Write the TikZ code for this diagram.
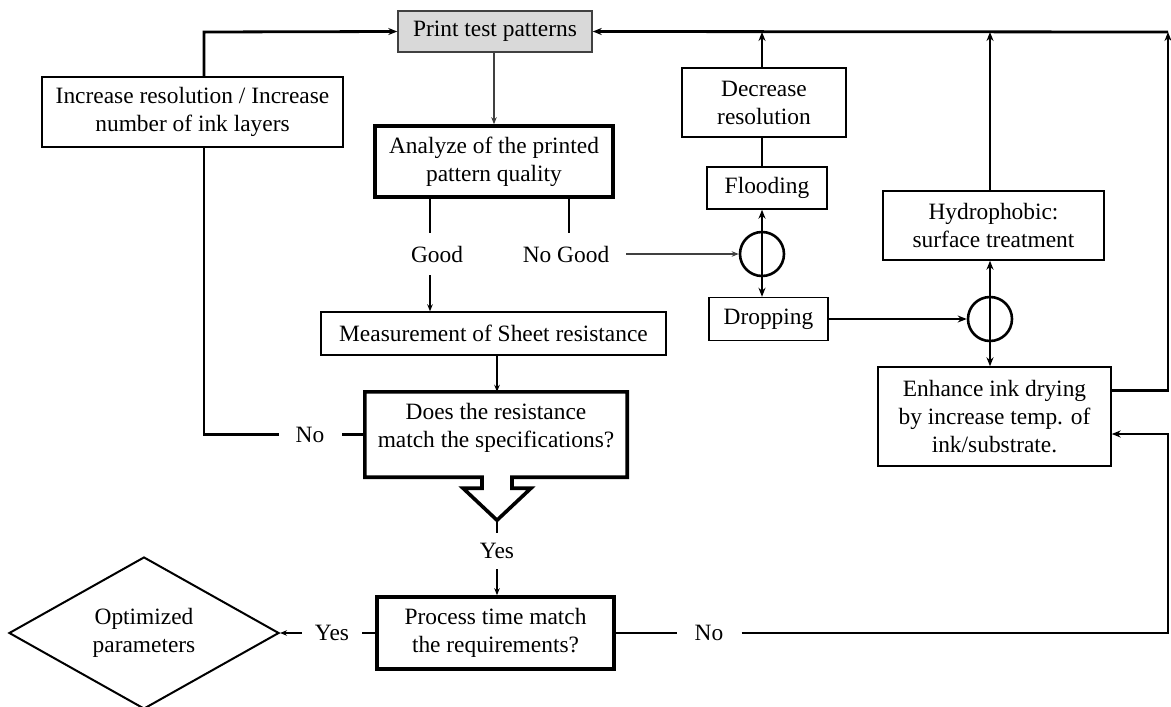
\documentclass[tikz,border=0pt]{standalone}
\usepackage{fontspec}
\setmainfont{Liberation Serif}
\usetikzlibrary{arrows.meta,shapes.geometric,calc}
\definecolor{boxgray}{HTML}{D9D9D9}
\definecolor{edgegray}{HTML}{404040}
\begin{document}
\begin{tikzpicture}[x=1pt,y=-1pt,
  every node/.style={font=\fontsize{23.4}{28}\selectfont, align=center, inner sep=0pt},
  plainbox/.style={draw=black, line width=1.4pt, rectangle},
  boldbox/.style={draw=black, line width=3.6pt, rectangle},
  tag/.style={minimum height=#1},
  heavy/.style={line width=2.8pt},
  light/.style={line width=1.2pt},
  tipH/.style={-{Stealth[length=9pt,width=7pt]}},
  tipHH/.style={{Stealth[length=9pt,width=7pt]}-{Stealth[length=9pt,width=7pt]}},
  tipL/.style={-{Stealth[length=7pt,width=5.5pt]}}
]
\useasboundingbox (0,0) rectangle (1171,707);

% process boxes
\node[plainbox, draw=edgegray, fill=boxgray, minimum width=194, minimum height=41] (print) at (495,31.5) {Print test patterns};
\node[plainbox, minimum width=301, minimum height=70] (incr) at (192.5,112) {Increase resolution / Increase\\number of ink layers};
\node[boldbox, minimum width=238, minimum height=71] (analyze) at (494,161.5) {Analyze of the printed\\pattern quality};
\node[plainbox, minimum width=345, minimum height=43] (meas) at (493.5,333.5) {Measurement of Sheet resistance};
\node[minimum width=262, minimum height=85] (does) at (496,434.5) {};
\node (doestext) at (496,428) {Does the resistance\\match the specifications?};
\node[boldbox, minimum width=237, minimum height=72] (proc) at (495.5,633) {Process time match\\the requirements?};
\node[draw=black, line width=2pt, diamond, minimum width=270, minimum height=152] (opt) at (144,633) {Optimized\\parameters};
\node[plainbox, minimum width=164, minimum height=69] (decr) at (764,102.5) {Decrease\\resolution};
\node[plainbox, minimum width=120, minimum height=42] (flood) at (767,188) {Flooding};
\node[plainbox, minimum width=119, minimum height=43] (drop) at (768.5,319) {Dropping};
\node[plainbox, minimum width=221, minimum height=69] (hydro) at (993.5,225.5) {Hydrophobic:\\surface treatment};
\node[plainbox, minimum width=233, minimum height=99] (enh) at (994.5,416.5) {Enhance ink drying\\by increase temp. of\\ink/substrate.};

% junction circles
\node[circle, draw=black, line width=2.6pt, minimum size=44] (c1) at (762,254) {};
\node[circle, draw=black, line width=2.6pt, minimum size=44] (c2) at (990,319) {};

% branch labels
\node[tag=42] (good) at (437,254) {Good};
\node[tag=42, inner xsep=17pt] (nogood) at (566,254) {No Good};
\node[tag=36] (yesd) at (497,551) {Yes};
\node[inner xsep=17pt] (noL) at (310,434.5) {No};
\node[inner xsep=13pt] (yesL) at (332,633) {Yes};
\node[inner xsep=18pt] (noR) at (709,633) {No};

% guide coordinates for the loops
\coordinate (lx) at (204,32);
\coordinate (gx) at (430,0);
\coordinate (nx) at (569,0);
\coordinate (rtop) at (1168,32);
\coordinate (rin) at (1168,434);

% resistance decision outline with its downward arrow
\draw[line width=3.6pt, line join=miter]
  (does.north west) -- (does.north east) -- (does.south east)
  -- ($(does.south)+(16,0)$) -- ($(does.south)+(16,11)$) -- ($(does.south)+(35,11)$)
  -- ($(does.south)+(1,43)$) coordinate (dtip)
  -- ($(does.south)+(-33,11)$) -- ($(does.south)+(-14,11)$) -- ($(does.south)+(-14,0)$)
  -- (does.south west) -- cycle;

% main flow
\draw[light, draw=edgegray, tipL] (print.south -| analyze.north) -- (analyze.north);
\draw[light] (analyze.south -| gx) -- (good.north -| gx);
\draw[light] (analyze.south -| nx) -- (nogood.north -| nx);
\draw[light, tipL] (good.south -| gx) -- (meas.north -| gx);
\draw[light, tipL] (meas.south -| dtip) -- (does.north -| dtip);
\draw[light] (dtip) -- (yesd.north -| dtip);
\draw[light, tipL] (yesd.south -| dtip) -- (proc.north -| dtip);
\draw[light] (proc.west |- yesL) -- (yesL.east);
\draw[light, tipL] (yesL.west) -- (opt.east);

% increase loop
\draw[heavy] (does.west |- noL) -- (noL.east);
\draw[heavy] (noL.west) -| (incr.south -| lx);
\draw[heavy, tipH] (incr.north -| lx) -- (lx) -- (print.west);

% no-good branch
\draw[light, draw=edgegray, tipL] (nogood.east) -- (c1.west);
\draw[heavy, tipHH] (c1 |- flood.south) -- (c1 |- drop.north);
\draw[light] (c1 |- flood.north) -- (c1 |- decr.south);
\draw[heavy, tipH] (c1 |- decr.north) -- (c1 |- rtop);
\draw[heavy, tipH] (drop.east |- c2) -- (c2.west);
\draw[heavy, tipHH] (c2 |- hydro.south) -- (c2 |- enh.north);
\draw[heavy, tipH] (c2 |- hydro.north) -- (c2 |- rtop);

% return loops on the right
\draw[heavy, tipH] ($(enh.north east)+(0,24)$) -| (rtop);
\draw[heavy, tipH] (rtop) -- (print.east);
\draw[heavy] (proc.east |- noR) -- (noR.west);
\draw[heavy, tipH] (noR.east) -| (rin) -- (rin -| enh.east);
\end{tikzpicture}
\end{document}
